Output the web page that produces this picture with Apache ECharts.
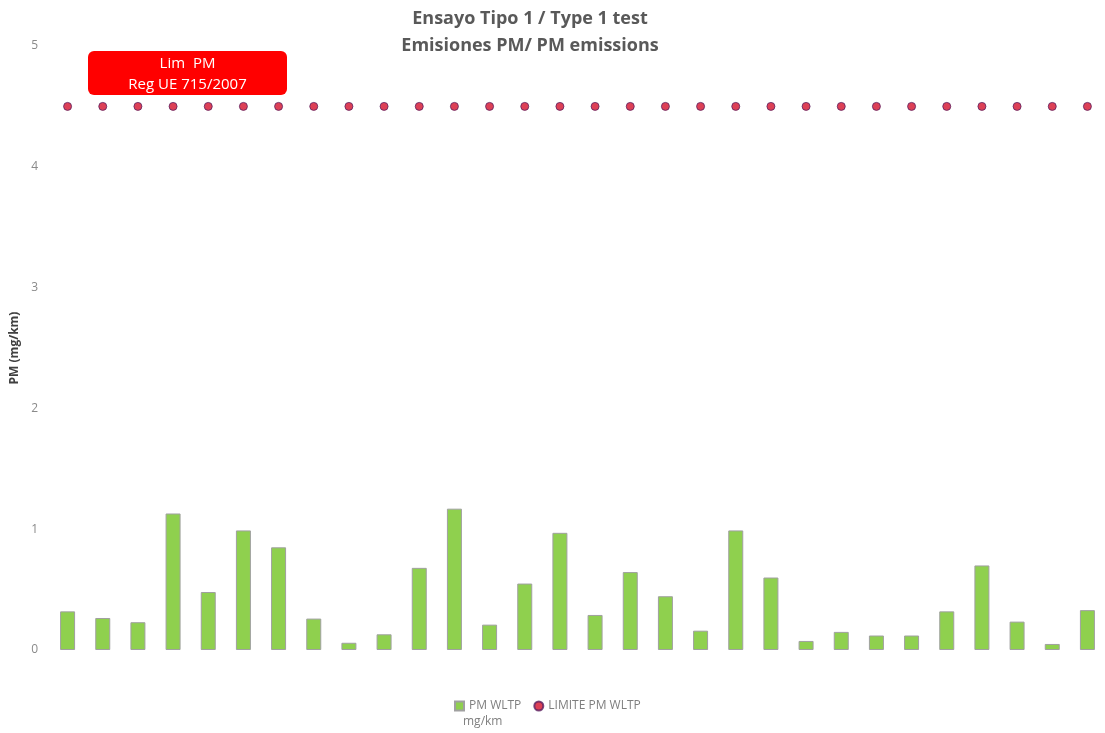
<!DOCTYPE html>
<html>
<head>
<meta charset="utf-8">
<script src="https://cdn.jsdelivr.net/npm/echarts@6/dist/echarts.min.js"></script>
<style>
  html, body { margin: 0; padding: 0; background: #fff; }
  #chart { width: 1105px; height: 733px; }
</style>
</head>
<body>
<div id="chart"></div>
<script>
// ensayos (1..30)
var categories = [];
for (var i = 1; i <= 30; i++) { categories.push(String(i)); }

// PM WLTP mg/km
var pmWltp = [0.32, 0.265, 0.23, 1.13, 0.48, 0.99, 0.85, 0.26, 0.06, 0.13,
              0.68, 1.17, 0.21, 0.55, 0.97, 0.29, 0.645, 0.445, 0.16, 0.99,
              0.60, 0.075, 0.15, 0.12, 0.12, 0.32, 0.70, 0.235, 0.05, 0.33];

// LIMITE PM WLTP (Reg UE 715/2007)
var limitePm = [];
for (var j = 0; j < categories.length; j++) { limitePm.push(4.5); }

var yTicks = [0, 1, 2, 3, 4, 5];

/**
 * grafico de emisiones PM
 */
function pmChart (target) {
    var chart = echarts.init(document.getElementById(target));
    var option = {
        animation: false,
        title: {
            text: 'Ensayo Tipo 1 / Type 1 test\nEmisiones PM/ PM emissions',
            left: 525,
            textAlign: 'center',
            top: 0,
            textStyle: {
                fontFamily: 'Open Sans',
                fontSize: 18,
                fontWeight: 'bold',
                color: '#595959',
                lineHeight: 27
            }
        },
        legend: {
            top: 695,
            left: 449,
            itemWidth: 9,
            itemHeight: 9,
            itemGap: 12,
            textStyle: { fontFamily: 'Open Sans', fontSize: 12, color: '#7f7f7f' },
            data: [
                { name: 'PM WLTP', icon: 'rect' },
                { name: 'LIMITE PM WLTP', icon: 'circle' }
            ]
        },
        grid: {
            left: 50,
            width: 1063,
            top: 46,
            height: 604
        },
        xAxis: {
            type: 'category',
            data: categories,
            axisLine: { show: false },
            axisTick: { show: false },
            axisLabel: { show: false },
            splitLine: { show: false }
        },
        yAxis: {
            type: 'value',
            min: yTicks[0],
            max: yTicks[yTicks.length - 1],
            interval: 1,
            name: 'PM (mg/km)',
            nameLocation: 'middle',
            nameGap: 22,
            nameTextStyle: { fontFamily: 'Open Sans', fontSize: 12, fontWeight: 'bold', color: '#404040' },
            axisLine: { show: false },
            axisTick: { show: false },
            splitLine: { show: false },
            axisLabel: { fontFamily: 'Open Sans', fontSize: 12, color: '#8a8a8a', margin: 12 }
        },
        series: [
            {
                name: 'PM WLTP',
                type: 'bar',
                data: pmWltp,
                barWidth: 15,
                itemStyle: { color: '#8FD04E', borderColor: '#a0a0a0', borderWidth: 1 }
            },
            {
                name: 'LIMITE PM WLTP',
                type: 'scatter',
                data: limitePm,
                symbol: 'circle',
                symbolSize: 8,
                itemStyle: { color: '#D4102C', borderColor: '#5a2060', borderWidth: 1 }
            }
        ],
        graphic: [
            {
                type: 'text',
                left: 463,
                top: 716,
                style: {
                    text: 'mg/km',
                    fill: '#7f7f7f',
                    font: '12px "Open Sans"'
                }
            },
            {
                type: 'group',
                left: 88,
                top: 51,
                children: [
                    {
                        type: 'rect',
                        shape: { x: 0, y: 0, width: 199, height: 44, r: 6 },
                        style: { fill: '#FF0000' }
                    },
                    {
                        type: 'text',
                        x: 99.5,
                        y: 23,
                        style: {
                            text: 'Lim  PM\nReg UE 715/2007',
                            fill: '#fff',
                            font: '15px "Open Sans"',
                            lineHeight: 21,
                            align: 'center',
                            verticalAlign: 'middle'
                        }
                    }
                ]
            }
        ]
    };
    chart.setOption(option);
}

pmChart('chart');
</script>
</body>
</html>
